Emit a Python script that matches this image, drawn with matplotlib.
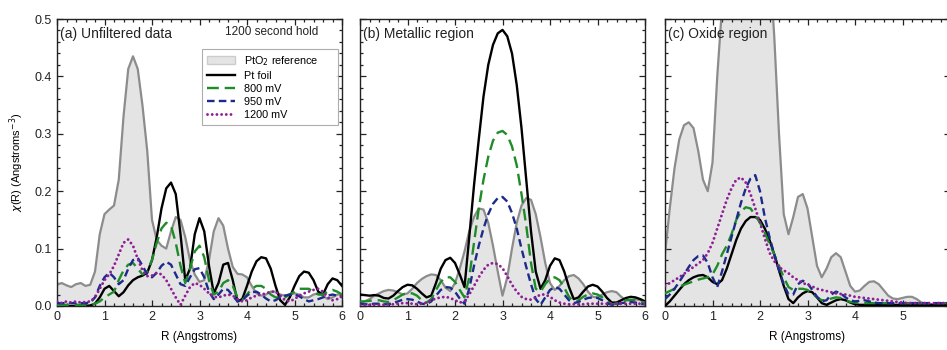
import numpy as np
import matplotlib
matplotlib.use("Agg")
import matplotlib.pyplot as plt
from matplotlib.patches import Patch
from matplotlib.lines import Line2D
from matplotlib.ticker import MultipleLocator

plt.rcParams['font.family'] = ['Liberation Sans', 'DejaVu Sans']

# R grid (Angstroms), 0.1 step
r = np.round(np.arange(0, 6.01, 0.1), 1)

# (a) Unfiltered data
a_pto2 = [0.037, 0.040, 0.036, 0.033, 0.038, 0.040, 0.035, 0.037, 0.060, 0.125,
          0.160, 0.168, 0.175, 0.220, 0.330, 0.413, 0.435, 0.413, 0.349, 0.270,
          0.150, 0.115, 0.105, 0.100, 0.130, 0.155, 0.150, 0.120, 0.080, 0.055,
          0.042, 0.045, 0.080, 0.130, 0.153, 0.140, 0.100, 0.068, 0.056, 0.055,
          0.050, 0.035, 0.022, 0.018, 0.020, 0.025, 0.025, 0.020, 0.018, 0.020,
          0.022, 0.020, 0.015, 0.015, 0.020, 0.022, 0.018, 0.012, 0.015, 0.020,
          0.020]
a_foil = [0.000, 0.000, 0.000, 0.000, 0.000, 0.000, 0.000, 0.001, 0.004, 0.015,
          0.030, 0.035, 0.026, 0.017, 0.024, 0.036, 0.045, 0.050, 0.053, 0.058,
          0.080, 0.120, 0.170, 0.205, 0.215, 0.195, 0.125, 0.045, 0.065, 0.125,
          0.153, 0.130, 0.070, 0.022, 0.040, 0.072, 0.075, 0.045, 0.008, 0.012,
          0.035, 0.060, 0.078, 0.085, 0.083, 0.065, 0.035, 0.010, 0.002, 0.015,
          0.035, 0.052, 0.060, 0.058, 0.045, 0.025, 0.020, 0.038, 0.048, 0.045,
          0.035]
a_800 = [0.002, 0.002, 0.002, 0.002, 0.002, 0.002, 0.002, 0.002, 0.004, 0.008,
         0.015, 0.020, 0.025, 0.045, 0.062, 0.072, 0.075, 0.065, 0.055, 0.060,
         0.080, 0.110, 0.135, 0.145, 0.140, 0.110, 0.070, 0.040, 0.065, 0.095,
         0.105, 0.085, 0.045, 0.020, 0.025, 0.040, 0.045, 0.035, 0.015, 0.010,
         0.020, 0.030, 0.035, 0.035, 0.030, 0.020, 0.015, 0.015, 0.015, 0.020,
         0.025, 0.030, 0.030, 0.030, 0.025, 0.020, 0.020, 0.025, 0.028, 0.025,
         0.020]
a_950 = [0.005, 0.005, 0.005, 0.005, 0.005, 0.005, 0.005, 0.006, 0.015, 0.035,
         0.050, 0.058, 0.050, 0.038, 0.045, 0.065, 0.080, 0.084, 0.070, 0.055,
         0.050, 0.058, 0.070, 0.077, 0.072, 0.055, 0.038, 0.035, 0.050, 0.064,
         0.066, 0.050, 0.025, 0.012, 0.020, 0.030, 0.028, 0.018, 0.008, 0.010,
         0.018, 0.024, 0.025, 0.020, 0.013, 0.008, 0.010, 0.015, 0.018, 0.020,
         0.020, 0.017, 0.012, 0.008, 0.010, 0.012, 0.015, 0.018, 0.020, 0.018,
         0.015]
a_1200 = [0.008, 0.005, 0.008, 0.006, 0.008, 0.006, 0.007, 0.008, 0.015, 0.030,
          0.045, 0.055, 0.070, 0.090, 0.110, 0.116, 0.105, 0.082, 0.062, 0.052,
          0.053, 0.058, 0.055, 0.045, 0.030, 0.015, 0.002, 0.018, 0.033, 0.040,
          0.037, 0.030, 0.022, 0.016, 0.015, 0.018, 0.020, 0.018, 0.012, 0.008,
          0.010, 0.015, 0.018, 0.020, 0.022, 0.025, 0.025, 0.018, 0.010, 0.008,
          0.012, 0.018, 0.022, 0.025, 0.028, 0.030, 0.025, 0.015, 0.010, 0.012,
          0.018]

# (b) Metallic region
b_pto2 = [0.005, 0.008, 0.012, 0.018, 0.022, 0.026, 0.028, 0.027, 0.024, 0.020,
          0.022, 0.030, 0.040, 0.047, 0.052, 0.055, 0.054, 0.045, 0.032, 0.026,
          0.040, 0.065, 0.095, 0.130, 0.155, 0.170, 0.168, 0.145, 0.105, 0.060,
          0.018, 0.050, 0.100, 0.145, 0.175, 0.188, 0.185, 0.160, 0.120, 0.075,
          0.040, 0.028, 0.035, 0.045, 0.052, 0.054, 0.048, 0.038, 0.025, 0.016,
          0.015, 0.020, 0.024, 0.026, 0.024, 0.016, 0.010, 0.010, 0.012, 0.010,
          0.008]
b_foil = [0.020, 0.019, 0.018, 0.019, 0.018, 0.014, 0.013, 0.018, 0.026, 0.033,
          0.037, 0.036, 0.030, 0.022, 0.015, 0.018, 0.040, 0.065, 0.080, 0.084,
          0.075, 0.055, 0.033, 0.120, 0.210, 0.290, 0.365, 0.420, 0.455, 0.475,
          0.481, 0.470, 0.440, 0.385, 0.310, 0.220, 0.130, 0.060, 0.030, 0.045,
          0.070, 0.083, 0.080, 0.060, 0.033, 0.012, 0.015, 0.025, 0.034, 0.037,
          0.034, 0.025, 0.014, 0.006, 0.006, 0.010, 0.014, 0.016, 0.015, 0.012,
          0.008]
b_800 = [0.008, 0.008, 0.009, 0.010, 0.010, 0.008, 0.007, 0.010, 0.015, 0.020,
         0.023, 0.022, 0.018, 0.010, 0.006, 0.012, 0.028, 0.042, 0.050, 0.050,
         0.042, 0.028, 0.015, 0.050, 0.110, 0.170, 0.220, 0.260, 0.288, 0.302,
         0.305, 0.298, 0.278, 0.245, 0.195, 0.140, 0.075, 0.030, 0.025, 0.038,
         0.048, 0.050, 0.045, 0.032, 0.016, 0.008, 0.010, 0.016, 0.020, 0.022,
         0.020, 0.015, 0.008, 0.003, 0.004, 0.007, 0.010, 0.011, 0.010, 0.008,
         0.006]
b_950 = [0.004, 0.003, 0.003, 0.004, 0.004, 0.003, 0.003, 0.005, 0.008, 0.011,
         0.012, 0.011, 0.008, 0.004, 0.003, 0.008, 0.018, 0.028, 0.033, 0.032,
         0.025, 0.013, 0.004, 0.030, 0.070, 0.105, 0.135, 0.160, 0.178, 0.188,
         0.190, 0.182, 0.162, 0.135, 0.100, 0.068, 0.038, 0.012, 0.002, 0.015,
         0.028, 0.033, 0.030, 0.020, 0.010, 0.005, 0.007, 0.011, 0.014, 0.015,
         0.014, 0.010, 0.005, 0.002, 0.003, 0.005, 0.006, 0.007, 0.006, 0.004,
         0.003]
b_1200 = [0.002, 0.002, 0.002, 0.002, 0.002, 0.002, 0.003, 0.003, 0.004, 0.005,
          0.005, 0.004, 0.003, 0.004, 0.006, 0.010, 0.013, 0.015, 0.016, 0.014,
          0.010, 0.006, 0.008, 0.020, 0.035, 0.050, 0.063, 0.072, 0.075, 0.073,
          0.066, 0.052, 0.037, 0.025, 0.016, 0.012, 0.011, 0.015, 0.020, 0.020,
          0.016, 0.010, 0.006, 0.004, 0.003, 0.003, 0.003, 0.003, 0.004, 0.004,
          0.004, 0.004, 0.004, 0.004, 0.004, 0.004, 0.004, 0.004, 0.004, 0.004,
          0.004]

# (c) Oxide region
c_pto2 = [0.090, 0.170, 0.240, 0.290, 0.315, 0.320, 0.310, 0.270, 0.220, 0.200,
          0.250, 0.400, 0.520, 0.620, 0.700, 0.750, 0.780, 0.790, 0.780, 0.750,
          0.700, 0.650, 0.600, 0.470, 0.300, 0.160, 0.125, 0.155, 0.190, 0.195,
          0.170, 0.120, 0.070, 0.050, 0.065, 0.085, 0.092, 0.085, 0.060, 0.035,
          0.025, 0.027, 0.035, 0.042, 0.043, 0.038, 0.028, 0.018, 0.013, 0.012,
          0.014, 0.016, 0.016, 0.012, 0.006, 0.003, 0.002, 0.002, 0.002, 0.002,
          0.002]
c_foil = [0.000, 0.008, 0.018, 0.028, 0.038, 0.045, 0.050, 0.053, 0.054, 0.050,
          0.042, 0.038, 0.045, 0.065, 0.090, 0.115, 0.135, 0.148, 0.155, 0.155,
          0.150, 0.135, 0.115, 0.090, 0.062, 0.035, 0.012, 0.005, 0.015, 0.022,
          0.026, 0.024, 0.015, 0.005, 0.002, 0.006, 0.010, 0.012, 0.010, 0.006,
          0.003, 0.002, 0.002, 0.002, 0.002, 0.002, 0.002, 0.002, 0.002, 0.002,
          0.002, 0.002, 0.002, 0.002, 0.002, 0.002, 0.002, 0.002, 0.002, 0.002,
          0.002]
c_800 = [0.022, 0.026, 0.030, 0.034, 0.037, 0.040, 0.043, 0.046, 0.048, 0.050,
         0.055, 0.070, 0.090, 0.105, 0.125, 0.150, 0.165, 0.172, 0.170, 0.158,
         0.145, 0.128, 0.108, 0.090, 0.070, 0.050, 0.033, 0.028, 0.030, 0.030,
         0.028, 0.022, 0.015, 0.010, 0.010, 0.013, 0.015, 0.014, 0.010, 0.007,
         0.006, 0.005, 0.005, 0.005, 0.005, 0.005, 0.005, 0.005, 0.005, 0.005,
         0.005, 0.005, 0.005, 0.005, 0.005, 0.005, 0.005, 0.005, 0.005, 0.005,
         0.005]
c_950 = [0.012, 0.020, 0.030, 0.042, 0.055, 0.068, 0.080, 0.087, 0.088, 0.075,
         0.050, 0.033, 0.060, 0.090, 0.120, 0.150, 0.180, 0.205, 0.222, 0.228,
         0.200, 0.155, 0.120, 0.090, 0.063, 0.038, 0.020, 0.020, 0.038, 0.044,
         0.040, 0.028, 0.016, 0.008, 0.010, 0.020, 0.025, 0.022, 0.015, 0.010,
         0.008, 0.009, 0.010, 0.008, 0.006, 0.005, 0.005, 0.005, 0.005, 0.005,
         0.005, 0.005, 0.005, 0.005, 0.005, 0.005, 0.005, 0.005, 0.005, 0.005,
         0.005]
c_1200 = [0.035, 0.040, 0.045, 0.050, 0.056, 0.062, 0.068, 0.074, 0.080, 0.092,
          0.110, 0.135, 0.160, 0.185, 0.205, 0.220, 0.224, 0.215, 0.195, 0.170,
          0.145, 0.118, 0.093, 0.078, 0.068, 0.062, 0.057, 0.050, 0.045, 0.040,
          0.037, 0.034, 0.030, 0.028, 0.026, 0.024, 0.022, 0.021, 0.020, 0.018,
          0.016, 0.015, 0.014, 0.013, 0.012, 0.011, 0.010, 0.009, 0.008, 0.007,
          0.006, 0.005, 0.005, 0.005, 0.005, 0.005, 0.005, 0.005, 0.005, 0.005,
          0.005]

panels = [
    ("(a) Unfiltered data", a_pto2, a_foil, a_800, a_950, a_1200),
    ("(b) Metallic region", b_pto2, b_foil, b_800, b_950, b_1200),
    ("(c) Oxide region", c_pto2, c_foil, c_800, c_950, c_1200),
]
x_ticks = [0, 1, 2, 3, 4, 5, 6]

GRAY_LINE = '#8c8c8c'
GRAY_FILL = '#e4e4e4'
GREEN = '#1e8c28'
BLUE = '#1c2a8a'
PURPLE = '#8e1e96'

# line styles shared by the plots and the legend
STYLE_FOIL = dict(color='black', lw=1.7)
STYLE_800 = dict(color=GREEN, lw=1.7, dashes=(5, 2.5))
STYLE_950 = dict(color=BLUE, lw=1.7, dashes=(3.2, 1.8))
STYLE_1200 = dict(color=PURPLE, lw=2.1, dashes=(0.01, 1.6), dash_capstyle='round')

fig = plt.figure(figsize=(9.47, 3.5), dpi=100)
lefts = [57 / 947, 360 / 947, 665 / 947]
width = 285 / 947
bottom = 1 - 306 / 350
height = 287 / 350

axes = []
for i, (title, pto2, foil, v800, v950, v1200) in enumerate(panels):
    ax = fig.add_axes([lefts[i], bottom, width, height])
    axes.append(ax)
    ax.fill_between(r, 0, pto2, color=GRAY_FILL, lw=0, zorder=1)
    ax.plot(r, pto2, color=GRAY_LINE, lw=1.6, zorder=2)
    ax.plot(r, foil, zorder=3, **STYLE_FOIL)
    ax.plot(r, v800, zorder=4, **STYLE_800)
    ax.plot(r, v950, zorder=5, **STYLE_950)
    ax.plot(r, v1200, zorder=6, **STYLE_1200)

    ax.set_xlim(0, 6)
    ax.set_ylim(0, 0.5)
    ax.set_xticks(x_ticks)
    if i == 2:
        # the last tick label falls past the figure edge in the original
        ax.set_xticklabels([str(t) for t in x_ticks[:-1]] + [''])
    ax.xaxis.set_minor_locator(MultipleLocator(0.2))
    ax.yaxis.set_major_locator(MultipleLocator(0.1))
    ax.yaxis.set_minor_locator(MultipleLocator(0.02))
    ax.tick_params(which='both', direction='in', top=True, right=True,
                   labelsize=9, colors='#222222', width=0.9)
    ax.tick_params(which='major', length=4)
    ax.tick_params(which='minor', length=2)
    for sp in ax.spines.values():
        sp.set_linewidth(1.0)
        sp.set_color('#222222')
    ax.text(0.012, 0.972, title, transform=ax.transAxes, ha='left', va='top',
            fontsize=10, color='#222222', zorder=10)
    if i == 0:
        ax.yaxis.set_major_formatter(plt.FuncFormatter(lambda v, p: f"{v:.1f}"))
        ax.set_ylabel(r"$\chi$(R) (Angstroms$^{-3}$)", fontsize=8, labelpad=6)
    else:
        ax.set_yticklabels([])
    if i != 1:
        ax.set_xlabel("R (Angstroms)", fontsize=8.5, labelpad=6)

ax = axes[0]
ax.text(0.915, 0.975, "1200 second hold", transform=ax.transAxes,
        ha='right', va='top', fontsize=8.5, color='#222222')
handles = [
    Patch(facecolor=GRAY_FILL, edgecolor='#cccccc', label='PtO$_2$ reference'),
    Line2D([], [], label='Pt foil', **STYLE_FOIL),
    Line2D([], [], label='800 mV', **STYLE_800),
    Line2D([], [], label='950 mV', **STYLE_950),
    Line2D([], [], label='1200 mV', **STYLE_1200),
]
leg = ax.legend(handles=handles, loc='upper left',
                bbox_to_anchor=(0.509, 0.63, 0.477, 0.265), mode='expand',
                fontsize=7.8, frameon=True, fancybox=False, borderpad=0.45,
                labelspacing=0.28, handlelength=2.6, handletextpad=0.8,
                borderaxespad=0)
leg.get_frame().set_edgecolor('#999999')
leg.get_frame().set_linewidth(0.8)

fig.savefig("out.png", dpi=100)
